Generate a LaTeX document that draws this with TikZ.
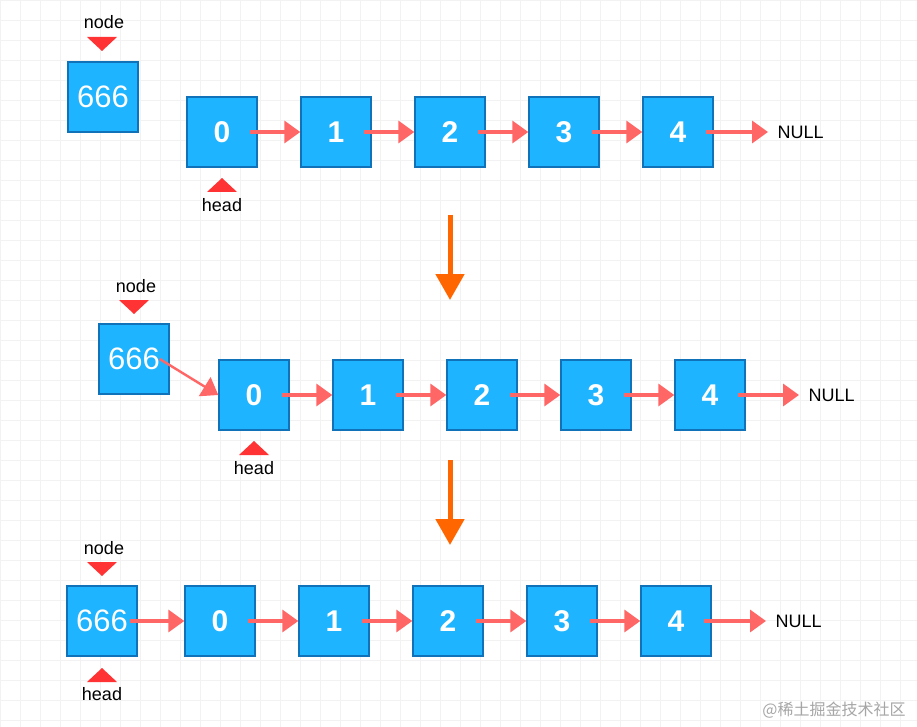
\documentclass[tikz,border=0pt]{standalone}
\usepackage{fontspec}
\setmainfont{Liberation Sans}
\newfontfamily\cjk{Noto Sans CJK SC}
\usetikzlibrary{arrows.meta}
\definecolor{boxblue}{RGB}{30, 180, 255}
\definecolor{boxedge}{RGB}{16, 115, 185}
\definecolor{linkred}{RGB}{255, 102, 102}
\definecolor{markred}{RGB}{255, 51, 51}
\definecolor{steporange}{RGB}{255, 102, 0}
\definecolor{gridgrey}{RGB}{242, 242, 242}

\tikzset{
  cell/.style={draw=boxedge, line width=1.4pt, fill=boxblue, minimum size=70pt,
    inner sep=0pt, text=white, font=\fontsize{30}{30}\selectfont\bfseries},
  newcell/.style={cell, font=\fontsize{31}{31}\selectfont},
  link/.style={draw=linkred, line width=3.5pt, -{Triangle[length=16pt, width=22pt]}},
  stage/.style={draw=steporange, line width=5pt, -{Triangle[length=26pt, width=28pt]}},
  label/.style={font=\fontsize{18}{18}\selectfont},
  downmark/.style={fill=markred, draw=none},
}

\begin{document}
\begin{tikzpicture}[x=1pt, y=-1pt]
        \useasboundingbox (0,0) rectangle (917,727);
        \fill[white] (0,0) rectangle (917,727);
        \draw[gridgrey, line width=0.8pt, step=20pt] (0,0) grid (917,727);

        % first row
        \node[newcell] (n1) at (103,97) {666};
        \foreach \i/\x in {0/222,1/336,2/450,3/564,4/678}
          \node[cell] (a\i) at (\x,132) {\i};
        \node[label, anchor=west] (z1) at (774,132) {NULL};
        \foreach \i/\j in {0/1,1/2,2/3,3/4}
          \draw[link] ([xshift=-8pt]a\i.east) -- (a\j.west);
        \draw[link] ([xshift=-8pt]a4.east) -- ([xshift=-6pt]z1.west);
        \node[label] (t1) at (104,22) {node};
        \fill[downmark] (87,37) -- (117,37) -- (102,51) -- cycle;
        \fill[downmark] (207,192) -- (237,192) -- (222,178) -- cycle;
        \node[label] (h1) at (222,205) {head};

        \coordinate (s1) at (450,215);
        \coordinate (e1) at (450,300);
        \draw[stage] (s1) -- (e1);

        % second row
        \node[newcell] (n2) at (134,359) {666};
        \foreach \i/\x in {0/254,1/368,2/482,3/596,4/710}
          \node[cell] (b\i) at (\x,395) {\i};
        \node[label, anchor=west] (z2) at (805,395) {NULL};
        \foreach \i/\j in {0/1,1/2,2/3,3/4}
          \draw[link] ([xshift=-8pt]b\i.east) -- (b\j.west);
        \draw[link] ([xshift=-8pt]b4.east) -- ([xshift=-6pt]z2.west);
        \draw[link, line width=2.4pt] ([xshift=-10pt]n2.east) -- (b0.west);
        \node[label] (t2) at (136,286) {node};
        \fill[downmark] (119,300) -- (149,300) -- (134,314) -- cycle;
        \fill[downmark] (239,455) -- (269,455) -- (254,441) -- cycle;
        \node[label] (h2) at (254,468) {head};

        \coordinate (s2) at (450,460);
        \coordinate (e2) at (450,545);
        \draw[stage] (s2) -- (e2);

        % third row
        \node[newcell] (n3) at (102,621) {666};
        \foreach \i/\x in {0/220,1/334,2/448,3/562,4/676}
          \node[cell] (c\i) at (\x,621) {\i};
        \node[label, anchor=west] (z3) at (772,621) {NULL};
        \draw[link] ([xshift=-8pt]n3.east) -- (c0.west);
        \foreach \i/\j in {0/1,1/2,2/3,3/4}
          \draw[link] ([xshift=-8pt]c\i.east) -- (c\j.west);
        \draw[link] ([xshift=-8pt]c4.east) -- ([xshift=-6pt]z3.west);
        \node[label] (t3) at (104,548) {node};
        \fill[downmark] (87,562) -- (117,562) -- (102,576) -- cycle;
        \fill[downmark] (87,682) -- (117,682) -- (102,668) -- cycle;
        \node[label] (h3) at (102,694) {head};

        \node[text=gray!70, font=\cjk\fontsize{16}{16}\selectfont] (wm) at (834,710) {@稀土掘金技术社区};
      \end{tikzpicture}
\end{document}
